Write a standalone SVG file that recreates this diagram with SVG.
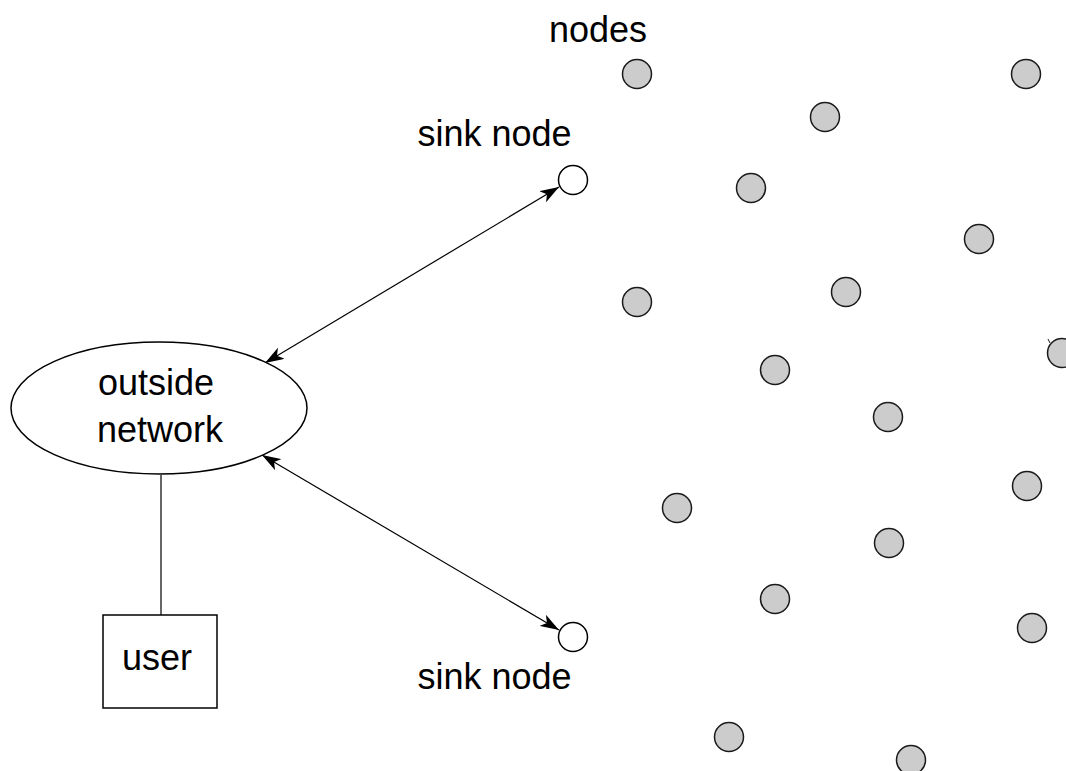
<svg xmlns="http://www.w3.org/2000/svg" width="1066" height="771" viewBox="0 0 1066 771">
  <style>
    .lbl { font-family: "Liberation Sans", Arial, sans-serif; font-size: 36px; fill: #000; }
    .node { fill: #cccccc; stroke: #1a1a1a; stroke-width: 1.5; }
    .sink { fill: #ffffff; stroke: #000; stroke-width: 1.5; }
    .shape { fill: #ffffff; stroke: #000; stroke-width: 1.5; }
    .link { fill: none; stroke: #000; stroke-width: 1.2; }
  </style>
  <defs>
    <marker id="arrow" viewBox="0 0 19 13" refX="19" refY="6.5" markerWidth="19" markerHeight="13" markerUnits="userSpaceOnUse" orient="auto-start-reverse">
      <path d="M0,0 L19,6.5 L0,13 L5,6.5 z" fill="#000"/>
    </marker>
  </defs>
  <rect width="1066" height="771" fill="#ffffff"/>

  <!-- connectors -->
  <g id="connectors">
    <line class="link" x1="265" y1="363" x2="559" y2="187" marker-start="url(#arrow)" marker-end="url(#arrow)"/>
    <line class="link" x1="262" y1="455" x2="559" y2="630" marker-start="url(#arrow)" marker-end="url(#arrow)"/>
    <line class="link" x1="161" y1="475" x2="161" y2="615"/>
  </g>

  <g id="outside-network">
    <ellipse class="shape" cx="159" cy="408" rx="148" ry="66"/>
    <text class="lbl" x="156" y="395" text-anchor="middle">outside</text>
    <text class="lbl" x="160" y="442" text-anchor="middle">network</text>
  </g>

  <g id="user">
    <rect class="shape" x="103" y="615" width="114" height="93" stroke-width="2"/>
    <text class="lbl" x="157" y="670" text-anchor="middle">user</text>
  </g>

  <g id="sink-top">
    <circle class="sink" cx="573" cy="180" r="14.5"/>
    <text class="lbl" x="494.5" y="146" text-anchor="middle">sink node</text>
  </g>

  <g id="sink-bottom">
    <circle class="sink" cx="573" cy="637" r="14.5"/>
    <text class="lbl" x="494.5" y="689" text-anchor="middle">sink node</text>
  </g>

  <g id="nodes-label">
    <text class="lbl" x="598" y="42" text-anchor="middle">nodes</text>
  </g>

  <g id="nodes">
    <circle class="node" cx="637" cy="74" r="14.5"/>
    <circle class="node" cx="1026" cy="74" r="14.5"/>
    <circle class="node" cx="825" cy="117" r="14.5"/>
    <circle class="node" cx="751" cy="188" r="14.5"/>
    <circle class="node" cx="979" cy="239" r="14.5"/>
    <circle class="node" cx="637" cy="302" r="14.5"/>
    <circle class="node" cx="846" cy="292" r="14.5"/>
    <circle class="node" cx="1062" cy="353" r="14.5"/>
    <line x1="1048" y1="339" x2="1050" y2="343" stroke="#1a1a1a" stroke-width="1"/>
    <circle class="node" cx="775" cy="370" r="14.5"/>
    <circle class="node" cx="888" cy="417" r="14.5"/>
    <circle class="node" cx="677" cy="508" r="14.5"/>
    <circle class="node" cx="1027" cy="486" r="14.5"/>
    <circle class="node" cx="889" cy="543" r="14.5"/>
    <circle class="node" cx="775" cy="599" r="14.5"/>
    <circle class="node" cx="1032" cy="628" r="14.5"/>
    <circle class="node" cx="729" cy="737" r="14.5"/>
    <circle class="node" cx="911" cy="760" r="14.5"/>
  </g>
</svg>
